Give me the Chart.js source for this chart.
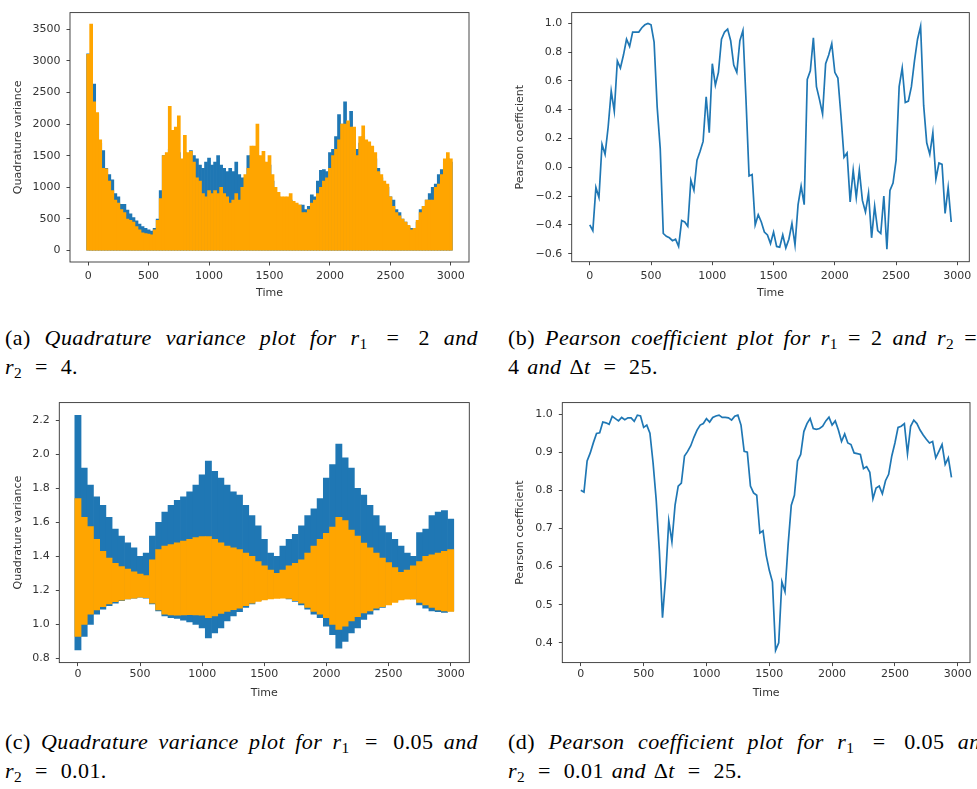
<!DOCTYPE html>
<html>
<head>
<meta charset="utf-8">
<script src="https://cdn.jsdelivr.net/npm/chart.js@4.4.0/dist/chart.umd.min.js"></script>
<style>
  html, body { margin: 0; padding: 0; background: #fff; }
  body { width: 977px; height: 789px; position: relative; overflow: hidden; }
  canvas { position: absolute; }
  .cap { position: absolute; font-family: "Liberation Serif", serif; font-size: 22px; color: #000; line-height: 29px; white-space: nowrap; letter-spacing: 0.4px; word-spacing: 2px; }
  .cap .j { text-align: justify; text-align-last: justify; }
  .cap sub { font-size: 70%; vertical-align: -0.25em; line-height: 0; font-style: normal; }
  .cap .rel { margin: 0 5px; }
  .cap .tight { word-spacing: 0; }
</style>
</head>
<body>
<canvas id="chartA" width="480" height="305" style="left:0;top:0"></canvas>
<canvas id="chartB" width="487" height="305" style="left:490px;top:0"></canvas>
<canvas id="chartC" width="480" height="315" style="left:0;top:390px"></canvas>
<canvas id="chartD" width="487" height="315" style="left:490px;top:390px"></canvas>

<div class="cap" style="left:5px;top:323px;width:473px">
  <div class="j">(a) <i>Quadrature variance plot for r</i><sub>1</sub> <span class="rel">=</span> 2 <i>and</i></div>
  <div><i>r</i><sub>2</sub> <span class="rel">=</span> 4.</div>
</div>
<div class="cap" style="left:508px;top:323px;width:469px">
  <div class="j tight">(b) <i>Pearson coefficient plot for r</i><sub>1</sub> = 2 <i>and r</i><sub>2</sub> =</div>
  <div>4 <i>and</i> Δ<i>t</i> <span class="rel">=</span> 25.</div>
</div>
<div class="cap" style="left:5px;top:727px;width:473px">
  <div class="j">(c) <i>Quadrature variance plot for r</i><sub>1</sub> <span class="rel">=</span> 0.05 <i>and</i></div>
  <div><i>r</i><sub>2</sub> <span class="rel">=</span> 0.01.</div>
</div>
<div class="cap" style="left:508px;top:727px;width:484px">
  <div class="j">(d) <i>Pearson coefficient plot for r</i><sub>1</sub> <span class="rel">=</span> 0.05 <i>and</i></div>
  <div><i>r</i><sub>2</sub> <span class="rel">=</span> 0.01 <i>and</i> Δ<i>t</i> <span class="rel">=</span> 25.</div>
</div>

<script>
// ---- data ----
const xTicks = [0, 500, 1000, 1500, 2000, 2500, 3000];
const xTickLabels = ['0', '500', '1000', '1500', '2000', '2500', '3000'];

// (a) r1 = 2, r2 = 4 : time bins of 25, top of each trace
const qvTimeA = Array.from({ length: 121 }, (_, i) => i * 25);
const qvBlueTopA = [
  3110, 3100, 2630, 2150, 1700, 1580, 1300, 1200, 1120, 900,
  850, 730, 730, 640, 580, 520, 470, 420, 380, 350,
  330, 310, 350, 500, 950, 1500, 1500, 1600, 1550, 1700,
  1550, 1400, 1550, 1500, 1580, 1500, 1450, 1350, 1300, 1400,
  1460, 1350, 1400, 1500, 1350, 1300, 1250, 1300, 1250, 1400,
  1200, 1150, 1150, 1500, 1500, 1450, 1500, 1350, 1400, 1300,
  1350, 1100, 900, 850, 800, 750, 800, 800, 720, 700,
  720, 720, 650, 700, 880, 850, 1100, 1270, 1280, 1250,
  1550, 1600, 1800, 2150, 2000, 2350, 2000, 2200, 1900, 1600,
  1700, 1800, 1700, 1600, 1500, 1450, 1300, 1150, 1050, 1000,
  850, 800, 650, 600, 500, 450, 380, 350, 350, 450,
  650, 700, 800, 900, 1000, 1050, 1200, 1280, 1400, 1450, 1400
];
const qvOrangeTopA = [
  3100, 3580, 2350, 2180, 1750, 1300, 1290, 1100, 950, 800,
  750, 650, 600, 500, 480, 450, 380, 330, 280, 270,
  260, 250, 330, 480, 820, 1500, 1550, 2280, 1900, 1950,
  2130, 1450, 1820, 1550, 1570, 1400, 1150, 1100, 900, 850,
  950, 900, 950, 900, 1000, 900, 850, 750, 800, 900,
  800, 1000, 1200, 1300, 1650, 1650, 2000, 1500, 1570, 1400,
  1500, 1200, 1000, 920, 850, 850, 850, 900, 780, 750,
  720, 600, 600, 650, 750, 800, 900, 1000, 1100, 1150,
  1300, 1500, 1600, 1750, 2000, 2000, 2050, 1950, 1950, 1500,
  1800, 1970, 1750, 1720, 1650, 1550, 1250, 1200, 1100, 1050,
  850, 700, 600, 550, 500, 450, 400, 330, 350, 480,
  600, 700, 800, 800, 800, 1000, 1050, 1200, 1450, 1550, 1450
];
const qvBottomA = 0;

// (c) r1 = 0.05, r2 = 0.01 : time bins of 50, low and high of each trace
const qvTimeC = Array.from({ length: 61 }, (_, i) => i * 50);
const qvBlueTopC = [
  2.23, 1.92, 1.82, 1.75, 1.70, 1.63, 1.56, 1.52, 1.48, 1.45,
  1.40, 1.42, 1.52, 1.60, 1.66, 1.70, 1.73, 1.75, 1.78, 1.82,
  1.88, 1.96, 1.90, 1.86, 1.82, 1.78, 1.76, 1.70, 1.64, 1.58,
  1.50, 1.42, 1.40, 1.46, 1.50, 1.53, 1.58, 1.64, 1.68, 1.74,
  1.86, 1.94, 2.06, 1.98, 1.92, 1.80, 1.76, 1.70, 1.64, 1.58,
  1.54, 1.50, 1.46, 1.42, 1.40, 1.54, 1.56, 1.64, 1.66, 1.67, 1.62
];
const qvBlueLowC = [
  0.85, 0.93, 1.00, 1.06, 1.09, 1.11, 1.125, 1.14, 1.15, 1.155,
  1.16, 1.155, 1.12, 1.08, 1.05, 1.04, 1.035, 1.025, 1.015, 1.00,
  0.98, 0.92, 0.95, 0.98, 1.02, 1.05, 1.075, 1.10, 1.12, 1.14,
  1.15, 1.16, 1.165, 1.16, 1.15, 1.135, 1.115, 1.09, 1.06, 1.04,
  0.99, 0.94, 0.86, 0.90, 0.95, 0.98, 1.03, 1.06, 1.085, 1.10,
  1.12, 1.135, 1.15, 1.157, 1.15, 1.115, 1.095, 1.08, 1.075, 1.07, 1.08
];
const qvOrangeTopC = [
  1.74, 1.63, 1.575, 1.50, 1.43, 1.39, 1.36, 1.34, 1.325, 1.31,
  1.296, 1.287, 1.38, 1.44, 1.46, 1.47, 1.48, 1.49, 1.50, 1.51,
  1.516, 1.516, 1.50, 1.48, 1.46, 1.45, 1.44, 1.42, 1.40, 1.37,
  1.344, 1.32, 1.30, 1.32, 1.344, 1.36, 1.38, 1.42, 1.46, 1.50,
  1.535, 1.573, 1.63, 1.61, 1.555, 1.52, 1.478, 1.45, 1.42, 1.39,
  1.363, 1.335, 1.306, 1.32, 1.344, 1.37, 1.40, 1.41, 1.42, 1.43, 1.44
];
const qvOrangeLowC = [
  0.93, 1.00, 1.06, 1.086, 1.105, 1.12, 1.134, 1.143, 1.15, 1.155,
  1.16, 1.157, 1.125, 1.086, 1.06, 1.056, 1.054, 1.056, 1.058, 1.056,
  1.054, 1.04, 1.05, 1.065, 1.077, 1.087, 1.096, 1.11, 1.125, 1.135,
  1.144, 1.15, 1.153, 1.155, 1.153, 1.14, 1.125, 1.10, 1.077, 1.06,
  1.04, 1.00, 0.97, 0.99, 1.02, 1.045, 1.067, 1.08, 1.096, 1.105,
  1.115, 1.13, 1.144, 1.148, 1.15, 1.13, 1.115, 1.10, 1.086, 1.08, 1.077
];

// Pearson coefficient, window Δt = 25
const pearsonTime = Array.from({ length: 119 }, (_, i) => i * 25);
const pearsonB = [
  -0.40, -0.44, -0.14, -0.21, 0.16, 0.09, 0.28, 0.53, 0.39, 0.74,
  0.69, 0.78, 0.89, 0.84, 0.94, 0.94, 0.94, 0.97, 0.99, 1.00,
  0.99, 0.87, 0.42, 0.13, -0.46, -0.48, -0.49, -0.51, -0.50, -0.55,
  -0.37, -0.38, -0.41, -0.09, -0.16, 0.05, 0.11, 0.18, 0.49, 0.24,
  0.72, 0.57, 0.66, 0.89, 0.94, 0.96, 0.88, 0.71, 0.66, 0.88,
  0.95, 0.47, -0.06, -0.05, -0.40, -0.33, -0.38, -0.45, -0.47, -0.53,
  -0.45, -0.55, -0.555, -0.47, -0.56, -0.50, -0.39, -0.54, -0.26, -0.13,
  -0.26, 0.61, 0.67, 0.90, 0.56, 0.47, 0.37, 0.72, 0.78, 0.86,
  0.66, 0.62, 0.36, 0.07, 0.10, -0.24, -0.02, -0.21, -0.02, -0.23,
  -0.31, -0.18, -0.49, -0.27, -0.44, -0.46, -0.20, -0.57, -0.16, -0.11,
  0.05, 0.56, 0.69, 0.45, 0.46, 0.56, 0.74, 0.89, 0.98, 0.43,
  0.17, 0.09, 0.24, -0.08, 0.03, 0.02, -0.32, -0.14, -0.38
];
const pearsonD = [
  0.80, 0.795, 0.877, 0.898, 0.925, 0.949, 0.951, 0.979, 0.977, 0.973,
  0.994, 0.988, 0.982, 0.991, 0.985, 0.99, 0.99, 0.981, 0.997, 0.995,
  0.965, 0.971, 0.95, 0.872, 0.774, 0.641, 0.466, 0.573, 0.72, 0.665,
  0.761, 0.811, 0.819, 0.89, 0.902, 0.917, 0.939, 0.958, 0.971, 0.975,
  0.988, 0.979, 0.991, 0.995, 0.997, 0.991, 0.991, 0.99, 0.984, 0.994,
  0.997, 0.971, 0.902, 0.90, 0.811, 0.793, 0.787, 0.688, 0.694, 0.63,
  0.59, 0.56, 0.38, 0.40, 0.56, 0.534, 0.658, 0.761, 0.787, 0.877,
  0.894, 0.954, 0.975, 0.988, 0.962, 0.96, 0.962, 0.968, 0.982, 0.992,
  0.971, 0.982, 0.958, 0.928, 0.948, 0.924, 0.92, 0.898, 0.896, 0.894,
  0.857, 0.862, 0.847, 0.778, 0.806, 0.811, 0.791, 0.825, 0.842, 0.89,
  0.924, 0.965, 0.968, 0.975, 0.896, 0.968, 0.984, 0.975, 0.958, 0.945,
  0.934, 0.924, 0.928, 0.885, 0.902, 0.92, 0.868, 0.885, 0.834
];

const yTicksA = [0, 500, 1000, 1500, 2000, 2500, 3000, 3500];
const yLabelsA = ['0', '500', '1000', '1500', '2000', '2500', '3000', '3500'];
const yTicksB = [-0.6, -0.4, -0.2, 0, 0.2, 0.4, 0.6, 0.8, 1.0];
const yLabelsB = ['\u22120.6', '\u22120.4', '\u22120.2', '0.0', '0.2', '0.4', '0.6', '0.8', '1.0'];
const yTicksC = [0.8, 1.0, 1.2, 1.4, 1.6, 1.8, 2.0, 2.2];
const yLabelsC = ['0.8', '1.0', '1.2', '1.4', '1.6', '1.8', '2.0', '2.2'];
const yTicksD = [0.4, 0.5, 0.6, 0.7, 0.8, 0.9, 1.0];
const yLabelsD = ['0.4', '0.5', '0.6', '0.7', '0.8', '0.9', '1.0'];

// ---- helpers ----
const BLUE = '#1f77b4';
const ORANGE = '#ffa500';
const INK = '#333333';
const tickFont = { family: 'DejaVu Sans', size: 11 };

// matplotlib-like box around the axes
const frameBox = {
  id: 'frameBox',
  afterDraw(chart) {
    const { ctx, chartArea: a } = chart;
    ctx.save();
    ctx.strokeStyle = INK;
    ctx.lineWidth = 0.9;
    ctx.strokeRect(a.left, a.top, a.right - a.left, a.bottom - a.top);
    ctx.restore();
  }
};

function makeAxis(opts) {
  return {
    type: 'linear',
    min: opts.min,
    max: opts.max,
    offset: false,
    afterBuildTicks: s => { s.ticks = opts.ticks.map(v => ({ value: v })); },
    afterFit: s => { if (s.isHorizontal()) s.height = opts.size; else s.width = opts.size; },
    grid: { display: true, offset: false, drawOnChartArea: false, drawTicks: true, tickLength: 3.5, tickColor: INK, tickWidth: 0.9 },
    border: { display: false },
    ticks: {
      autoSkip: false, maxRotation: 0, padding: opts.tickPad, color: INK, font: tickFont,
      callback: (v, i) => opts.labels[i]
    },
    title: { display: true, text: opts.title, color: INK, font: tickFont, padding: { top: opts.titlePad, bottom: opts.titlePad } }
  };
}

function baseOptions(pad, xAxis, yAxis) {
  return {
    responsive: false,
    animation: false,
    devicePixelRatio: 1,
    layout: { padding: pad },
    plugins: { legend: { display: false }, tooltip: { enabled: false } },
    scales: { x: xAxis, y: yAxis }
  };
}

function barSet(times, lows, highs, color, order) {
  return {
    data: times.map((t, i) => ({ x: t, y: [Array.isArray(lows) ? lows[i] : lows, highs[i]] })),
    backgroundColor: color,
    borderWidth: 0,
    grouped: false,
    barPercentage: 1,
    categoryPercentage: 1,
    order: order
  };
}

// ---- (a) ----
new Chart(document.getElementById('chartA'), {
  type: 'bar',
  data: {
    datasets: [
      barSet(qvTimeA, qvBottomA, qvBlueTopA, BLUE, 1),
      barSet(qvTimeA, qvBottomA, qvOrangeTopA, ORANGE, 0)
    ]
  },
  options: baseOptions({ left: 0, top: 1, right: 11, bottom: 0 },
    makeAxis({ min: -150, max: 3150, ticks: xTicks, labels: xTickLabels, size: 43, tickPad: 4, title: 'Time', titlePad: 5.7 }),
    makeAxis({ min: -180, max: 3760, ticks: yTicksA, labels: yLabelsA, size: 70, tickPad: 6, title: 'Quadrature variance', titlePad: 11.4 })),
  plugins: [frameBox]
});

// ---- (b) ----
new Chart(document.getElementById('chartB'), {
  type: 'line',
  data: {
    datasets: [{
      data: pearsonTime.map((t, i) => ({ x: t, y: pearsonB[i] })),
      borderColor: BLUE, borderWidth: 1.7, pointRadius: 0, tension: 0, fill: false
    }]
  },
  options: baseOptions({ left: 0, top: 2.7, right: 7.7, bottom: 0 },
    makeAxis({ min: -147.5, max: 3097.5, ticks: xTicks, labels: xTickLabels, size: 43.3, tickPad: 4, title: 'Time', titlePad: 5.7 }),
    makeAxis({ min: -0.656, max: 1.075, ticks: yTicksB, labels: yLabelsB, size: 81.7, tickPad: 6, title: 'Pearson coefficient', titlePad: 23.4 })),
  plugins: [frameBox]
});

// ---- (c) ----
new Chart(document.getElementById('chartC'), {
  type: 'bar',
  data: {
    datasets: [
      barSet(qvTimeC, qvBlueLowC, qvBlueTopC, BLUE, 1),
      barSet(qvTimeC, qvOrangeLowC, qvOrangeTopC, ORANGE, 0)
    ]
  },
  options: baseOptions({ left: 0, top: 6, right: 10.7, bottom: 0 },
    makeAxis({ min: -150, max: 3150, ticks: xTicks, labels: xTickLabels, size: 42.4, tickPad: 1, title: 'Time', titlePad: 5.7 }),
    makeAxis({ min: 0.7755, max: 2.3045, ticks: yTicksC, labels: yLabelsC, size: 59.3, tickPad: 6, title: 'Quadrature variance', titlePad: 11.4 })),
  plugins: [frameBox]
});

// ---- (d) ----
new Chart(document.getElementById('chartD'), {
  type: 'line',
  data: {
    datasets: [{
      data: pearsonTime.map((t, i) => ({ x: t, y: pearsonD[i] })),
      borderColor: BLUE, borderWidth: 1.7, pointRadius: 0, tension: 0, fill: false
    }]
  },
  options: baseOptions({ left: 0, top: 7.3, right: 7, bottom: 0 },
    makeAxis({ min: -147.5, max: 3097.5, ticks: xTicks, labels: xTickLabels, size: 42.4, tickPad: 1, title: 'Time', titlePad: 5.7 }),
    makeAxis({ min: 0.348, max: 1.030, ticks: yTicksD, labels: yLabelsD, size: 72.3, tickPad: 6, title: 'Pearson coefficient', titlePad: 23.4 })),
  plugins: [frameBox]
});
</script>
</body>
</html>
